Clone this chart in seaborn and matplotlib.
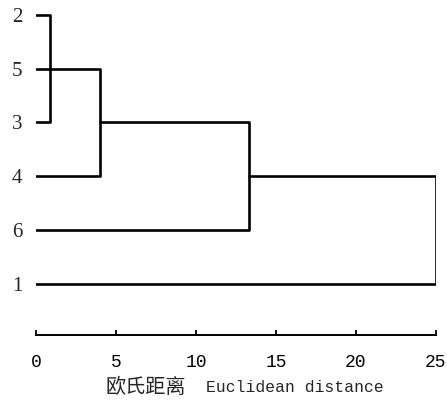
import pandas as pd
import seaborn as sns
import matplotlib.pyplot as plt

# leaves top to bottom, and merges (left child, right child, distance)
leaf_labels = ['2', '5', '3', '4', '6', '1']
link_name = ['c1', 'c2', 'c3', 'c4', 'c5']
link_left = ['2', 'c1', 'c2', 'c3', 'c4']
link_right = ['3', '5', '4', '6', '1']
link_height = [0.85, 0.85, 4.0, 13.3, 25.0]
x_ticks = [0, 5, 10, 15, 20, 25]

# build the U-shaped links of the dendrogram
pos = {lab: i for i, lab in enumerate(leaf_labels)}
hgt = {lab: 0.0 for lab in leaf_labels}
rows = []
for k, (name, l, r, h) in enumerate(zip(link_name, link_left, link_right, link_height)):
    pts = [(hgt[l], pos[l]), (h, pos[l]), (h, pos[r]), (hgt[r], pos[r])]
    for j, (x, y) in enumerate(pts):
        rows.append({'seg': k, 'order': j, 'x': x, 'y': y})
    pos[name] = (pos[l] + pos[r]) / 2
    hgt[name] = h
df = pd.DataFrame(rows)

sns.set_style('ticks')
fig = plt.figure(figsize=(4.47, 4.03), dpi=100)
ax = fig.add_axes([36 / 447, 1 - 335 / 403, 400 / 447, 331 / 403])

sns.lineplot(data=df, x='x', y='y', units='seg', estimator=None, sort=False,
             color='black', linewidth=1.9, ax=ax, legend=False)

ax.set_xlim(0, 25)
ax.set_ylim(5.95, -0.2)
ax.set_xticks(x_ticks)
ax.set_xticklabels([str(t) for t in x_ticks], family='Liberation Mono', fontsize=13)
ax.set_yticks(range(len(leaf_labels)))
ax.set_yticklabels(leaf_labels, family='Liberation Serif', fontsize=15)
ax.tick_params(axis='y', length=0, pad=10)
ax.tick_params(axis='x', direction='in', length=3.5, width=1.3, pad=14, colors='black')
ax.set_xlabel('')
ax.set_ylabel('')
for s in ['top', 'right', 'left']:
    ax.spines[s].set_visible(False)
ax.spines['bottom'].set_linewidth(1.4)
ax.spines['bottom'].set_color('black')

fig.text(186 / 447, 1 - 387 / 403, '欧氏距离', family=['Noto Sans CJK SC', 'DejaVu Sans'],
         fontsize=14.5, ha='right', va='center')
fig.text(206 / 447, 1 - 387 / 403, 'Euclidean distance', family='Liberation Mono',
         fontsize=11.8, ha='left', va='center')

fig.savefig('out.png', dpi=100)
